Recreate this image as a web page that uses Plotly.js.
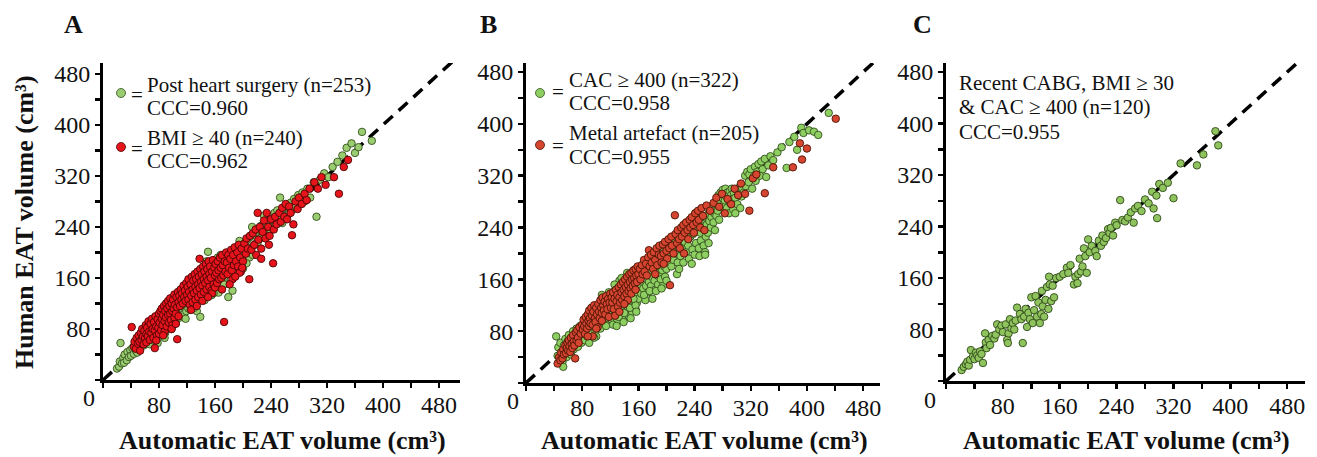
<!DOCTYPE html>
<html>
<head>
<meta charset="utf-8">
<script src="https://cdn.plot.ly/plotly-3.0.1.min.js"></script>
<style>html,body{margin:0;padding:0;background:#fff;}#chart{width:1317px;height:457px;}</style>
</head>
<body>
<div id="chart"></div>
<script>
// ---------- DATA ----------
const tickVals = [80,160,240,320,400,480];
const tickText = ['80','160','240','320','400','480'];

// Panel A: Post heart surgery (n=253) [automatic, human]
const postHeartSurgery = [
[20,18],[23,21],[24,29],[25,58],[27,26],[29,35],[30,27],[31,40],[34,31],[35,44],[37,36],[39,47],[40,38],[42,50],[44,41],[45,55],[47,46],[49,43],[51,59],[53,50],[55,63],[58,54],
[60,67],[61,57],[62,71],[64,60],[64,75],[66,69],[67,56],[68,79],[69,64],[70,74],[71,84],[72,62],[73,77],[74,70],[75,89],[76,66],[77,81],[78,73],[79,92],[80,68],[80,85],[81,76],[82,96],[83,80],[84,72],[85,98],[85,88],[86,79],[87,101],[88,83],[89,93],[89,74],[90,104],[91,86],[92,97],[93,81],[93,108],[94,90],[95,99],[96,84],[96,112],[97,94],[98,80],[99,104],[99,117],[100,91],[78,58],[88,66],[97,120],
[101,108],[101,96],[102,121],[103,100],[104,113],[104,89],[105,125],[106,104],[107,116],[107,97],[108,129],[109,109],[110,120],[110,98],[111,133],[112,112],[113,101],[113,126],[114,137],[115,116],[116,104],[116,130],[117,141],[118,119],[119,108],[119,134],[120,145],[121,123],[122,112],[122,137],[123,149],[124,126],[125,110],[125,141],[126,152],[127,130],[128,116],[128,145],[129,156],[130,134],[131,120],[132,148],[133,160],[133,137],[134,108],[135,126],[136,152],[137,164],[138,140],[139,99],[139,130],[140,156],[118,96],[130,113],
[141,168],[141,144],[142,131],[143,160],[144,148],[145,125],[145,171],[146,152],[147,138],[148,164],[149,176],[150,201],[150,155],[151,142],[152,167],[153,180],[154,158],[155,133],[155,146],[156,170],[157,184],[158,160],[159,148],[160,174],[160,188],[161,163],[162,150],[163,178],[164,192],[165,167],[166,145],[166,155],[167,182],[168,196],[169,170],[170,158],[171,186],[172,173],[173,160],[174,190],[175,176],[176,151],[177,194],[178,180],[179,130],[179,166],[165,137],[158,136],[172,150],[148,186],
[181,197],[182,183],[184,170],[185,140],[185,200],[187,188],[188,174],[190,204],[191,192],[193,178],[194,208],[196,196],[197,182],[199,212],[200,175],[201,200],[203,216],[204,188],[206,220],[207,204],[209,192],[210,224],[212,208],[213,240],[214,196],[216,228],[217,212],[219,232],[195,218],[205,183],
[221,216],[222,236],[224,222],[226,242],[228,226],[230,258],[231,232],[233,246],[235,226],[237,250],[239,236],[241,256],[243,240],[245,262],[247,244],[249,266],[251,248],[253,286],[254,258],[256,246],[258,270],[260,255],
[262,272],[265,260],[268,278],[270,266],[273,284],[276,272],[279,290],[282,277],[285,294],[288,280],[292,300],[296,286],
[301,310],[305,256],[310,314],[316,324],[322,318],[328,334],[335,342],
[342,352],[348,364],[355,371],[360,356],[365,365],[370,389],[384,375]
];

// Panel A: BMI >= 40 (n=240)
const bmi40 = [
[41,83],[44,52],[45,60],[47,49],[48,66],[50,57],[51,70],[52,60],[53,46],[54,74],[55,63],[56,80],[57,68],[58,56],[59,77],[60,66],[61,86],[62,72],[62,59],[63,82],[64,69],[65,92],[66,76],[67,63],[68,88],[69,74],[70,96],[71,80],[72,66],[73,91],[74,50],[74,78],[75,100],[76,84],[77,70],[78,95],[79,82],[80,104],[80,72],[76,62],
[81,90],[82,108],[83,78],[84,96],[84,112],[85,86],[86,102],[87,116],[88,92],[88,76],[89,108],[90,120],[90,98],[91,84],[92,112],[93,102],[93,124],[94,90],[95,116],[96,104],[96,128],[97,94],[98,120],[99,108],[99,86],[100,126],[101,112],[102,98],[102,134],[103,118],[104,104],[105,130],[106,64],[106,114],[107,138],[108,122],[108,100],[109,132],[110,116],[111,142],[112,126],[113,136],[114,120],[115,148],[116,130],[117,140],[118,124],[119,152],[120,134],[86,70],[98,80],[104,88],
[121,146],[122,126],[122,158],[123,138],[124,118],[125,150],[126,132],[127,162],[128,142],[128,122],[129,156],[130,136],[131,166],[132,146],[132,126],[133,158],[134,140],[135,170],[136,150],[136,130],[137,162],[138,144],[139,174],[140,154],[140,134],[141,166],[142,148],[143,178],[144,158],[144,138],[145,170],[146,152],[147,182],[148,162],[148,142],[149,174],[150,156],[151,186],[152,166],[152,146],[153,178],[154,160],[155,140],[156,170],[157,188],[158,150],[159,176],[160,164],[126,110],[142,124],[156,136],[134,116],[150,130],[138,190],[160,145],
[161,182],[162,168],[163,152],[164,186],[165,172],[166,158],[167,192],[168,176],[169,160],[170,196],[171,180],[172,164],[173,91],[174,186],[175,170],[176,200],[177,184],[178,166],[179,196],[180,176],[182,190],[183,204],[184,172],[186,196],[187,180],[188,208],[190,186],[192,200],[193,178],[194,212],[196,192],[197,170],[198,206],[200,186],[185,158],[195,168],[189,162],[181,150],[199,176],[170,142],
[202,214],[204,198],[205,222],[207,206],[209,158],[210,226],[212,204],[214,230],[216,212],[218,236],[219,196],[221,262],[222,220],[224,240],[226,206],[228,232],[230,250],[232,222],[234,262],[236,240],[238,226],[240,252],[243,183],[244,236],[246,256],[248,244],[226,190],[237,212],
[252,262],[254,248],[256,270],[259,256],[261,276],[263,252],[266,272],[268,262],[270,227],[272,244],[275,280],[278,268],[280,286],[284,276],[288,292],[291,282],[295,300],
[302,310],[307,300],[312,318],[318,306],[330,318],[337,292],[344,334],[350,345]
];

// Panel B: CAC >= 400 (n=322)
const cac400 = [
[43,72],[45,42],[46,55],[48,38],[49,62],[51,48],[52,33],[53,25],[54,58],[55,45],[56,68],[57,52],[58,40],[59,64],[60,55],[61,74],[62,50],[63,60],[64,44],[65,70],[66,58],[67,80],[68,52],[69,66],[70,75],[71,60],[72,84],[73,68],[74,56],[75,78],[76,66],[77,88],[78,72],[79,62],[80,82],
[81,70],[82,90],[83,78],[84,66],[85,94],[86,82],[87,72],[88,100],[89,86],[90,76],[91,96],[92,84],[93,104],[94,78],[95,92],[96,110],[97,86],[98,98],[99,80],[100,104],[101,92],[102,114],[103,88],[104,100],[105,120],[106,94],[107,108],[108,136],[109,98],[110,114],[111,90],[112,124],[113,104],[114,96],[115,130],[116,110],[117,100],[118,140],[119,116],[120,106],[90,62],[100,72],[106,84],[114,88],[97,70],
[121,128],[122,112],[122,98],[123,136],[124,118],[125,104],[126,142],[127,124],[127,110],[128,150],[129,130],[130,114],[130,96],[131,144],[132,122],[133,158],[134,134],[134,108],[135,120],[136,148],[137,128],[138,100],[138,140],[139,160],[140,118],[141,134],[142,152],[142,110],[143,126],[144,164],[145,140],[145,118],[146,104],[147,150],[148,132],[149,162],[150,122],[150,142],[151,110],[152,156],[153,136],[154,166],[154,126],[155,146],[156,114],[157,160],[158,138],[158,124],[159,150],[160,130],[124,90],[132,102],[140,108],[148,116],[156,120],[126,152],[136,162],[144,170],[152,172],[160,168],[129,88],[139,94],[149,100],[157,110],[135,138],[143,146],[151,150],[159,156],[146,142],[153,130],
[161,144],[162,170],[163,152],[164,138],[165,176],[166,158],[167,146],[168,180],[169,162],[170,128],[171,150],[172,184],[173,168],[174,140],[175,156],[176,188],[177,172],[178,150],[179,164],[180,130],[181,192],[182,176],[183,158],[184,144],[185,180],[186,196],[187,166],[188,152],[189,184],[190,170],[191,200],[192,160],[193,186],[194,174],[195,150],[196,204],[197,180],[198,164],[199,192],[200,176],[168,136],[176,142],[185,142],[193,146],[200,158],
[202,210],[203,188],[205,198],[206,216],[207,180],[209,204],[210,190],[212,222],[213,200],[215,168],[216,186],[217,214],[219,228],[220,196],[222,208],[223,232],[224,186],[226,218],[228,202],[229,238],[231,212],[232,192],[234,226],[235,244],[237,206],[238,230],[240,198],[241,262],[242,216],[244,236],[245,248],[246,208],[248,232],[249,220],[250,252],[252,240],[253,212],[254,256],[255,202],[256,226],[257,244],[258,258],[259,232],[260,216],[227,246],[218,176],[236,184],[247,196],[255,198],[260,262],
[261,250],[262,266],[263,240],[264,256],[266,270],[267,248],[268,262],[269,236],[270,276],[271,258],[272,284],[273,266],[274,290],[275,252],[276,280],[277,294],[278,272],[279,286],[280,298],[281,276],[282,290],[283,282],[284,300],[285,288],[286,270],[287,294],[288,284],[289,262],[290,296],[291,278],[292,290],[293,300],[294,284],[295,268],[296,294],[298,286],[300,298],[301,276],[303,292],[304,302],[305,270],[307,288],[308,300],[310,294],[298,262],
[312,320],[313,304],[315,326],[317,310],[318,322],[320,330],[322,300],[324,318],[326,334],[327,312],[329,326],[331,338],[333,320],[335,342],[337,330],[340,346],[342,318],[345,336],[348,350],[352,344],
[358,356],[364,364],[371,332],[375,372],[382,380],[386,360],[392,394],[395,386],[403,390],[410,388],[416,383],[431,417]
];

// Panel B: Metal artefact (n=205)
const metalArtefact = [
[45,30],[47,40],[49,35],[50,47],[52,38],[53,52],[54,44],[56,58],[57,46],[58,54],[59,62],[60,50],[61,66],[62,57],[63,48],[64,70],[65,60],[66,54],[67,74],[68,64],[69,58],[70,38],[71,78],[72,66],[73,82],[74,70],[75,62],[76,86],[78,76],[80,90],
[81,82],[82,98],[83,88],[84,76],[85,102],[86,92],[87,84],[88,106],[89,96],[90,88],[90,112],[91,100],[92,92],[93,116],[94,104],[95,90],[96,110],[97,120],[98,100],[99,94],[100,116],[101,106],[102,86],[103,122],[104,110],[105,100],[106,128],[107,116],[108,108],[109,132],[110,120],[111,112],[112,126],[113,106],[114,134],[115,122],[116,114],[117,130],[118,102],[119,124],[120,138],[95,72],[100,84],[88,72],[108,96],
[121,116],[122,132],[123,124],[124,140],[125,114],[126,130],[127,104],[128,144],[129,126],[130,136],[131,118],[132,148],[133,132],[134,124],[135,152],[136,140],[137,128],[138,156],[139,144],[140,134],[141,160],[142,148],[143,138],[144,164],[145,152],[146,142],[147,168],[148,156],[149,146],[150,170],[151,160],[152,150],[153,174],[154,162],[155,154],[156,176],[157,166],[158,156],[159,180],[160,168],[145,128],[150,138],[133,110],[140,122],[156,144],
[162,176],[163,160],[165,182],[166,168],[168,190],[169,172],[171,184],[172,166],[174,194],[175,205],[176,180],[178,198],[179,186],[181,176],[182,202],[184,190],[186,208],[187,182],[189,198],[190,212],[192,196],[193,186],[195,214],[196,200],[198,218],[200,204],[201,192],[203,222],[204,208],[205,151],[207,226],[208,212],[210,200],[184,168],[196,184],
[212,259],[213,230],[215,216],[216,236],[218,222],[219,208],[221,240],[222,226],[224,244],[225,200],[226,232],[228,248],[230,236],[231,222],[233,252],[234,240],[236,256],[238,244],[239,232],[241,262],[243,248],[245,266],[246,252],[248,240],[250,270],[252,258],[254,236],[257,274],[262,266],[267,278],
[271,286],[275,272],[279,292],[283,262],[287,284],[292,276],[297,300],[302,290],[306,308],[312,292],[318,266],[323,316],
[328,322],[340,293],[352,333],[380,333],[393,345],[390,370],[400,362],[441,408]
];

// Panel C: Recent CABG, BMI >= 30 & CAC >= 400 (n=120)
const combined = [
[22,17],[25,22],[28,26],[30,30],[32,24],[34,33],[35,48],[38,38],[40,34],[42,44],
[44,40],[46,36],[48,46],[50,42],[52,28],[55,74],[56,60],[57,51],[60,64],[62,56],
[65,70],[68,66],[70,72],[72,88],[75,80],[78,86],[80,76],[84,88],[86,64],[87,59],
[88,74],[90,96],[92,82],[94,90],[96,80],[98,94],[100,114],[104,104],[106,96],[108,59],
[110,100],[112,112],[114,84],[116,106],[118,96],[120,130],[122,90],[124,110],[126,132],[128,100],
[130,122],[132,90],[134,104],[135,140],[136,116],[138,100],[140,126],[142,146],[144,112],[145,162],
[146,150],[148,124],[150,148],[152,130],[155,160],[160,162],[165,166],[170,176],[172,168],[175,180],
[180,150],[182,162],[185,152],[186,166],[188,190],[190,170],[192,178],[194,206],[196,194],[198,168],
[200,220],[202,200],[205,210],[210,202],[212,194],[215,218],[218,210],[220,226],[222,216],[225,222],
[228,236],[230,230],[232,238],[235,226],[238,246],[240,242],[245,281],[248,250],[252,248],[256,254],
[260,262],[264,246],[266,268],[270,272],[275,264],[280,282],[285,276],[290,294],[292,268],[296,288],
[297,253],[300,306],[305,300],[312,308],[320,284],[330,338],[353,335],[362,352],[379,388],[383,366]
];

const identity = [0, 520];

// ---------- LAYOUT HELPERS ----------
const W = 1317, H = 457;
const px = v => v / W;
const py = v => 1 - v / H;
const FONT = 'Liberation Serif';

function scat(pairs, fill, line, xa, ya) {
  return {
    type: 'scatter', mode: 'markers',
    x: pairs.map(p => p[0]), y: pairs.map(p => p[1]),
    xaxis: xa, yaxis: ya, hoverinfo: 'skip',
    marker: {size: 7.5, color: fill, line: {color: line, width: 0.9}}
  };
}
function diag(xa, ya) {
  return {type: 'scatter', mode: 'lines', x: identity, y: identity, xaxis: xa, yaxis: ya,
    hoverinfo: 'skip', line: {color: '#000', width: 3.5, dash: '12px,8px'}};
}

const GA = '#9acc70', GAL = '#34501e';
const RA = '#e8141b', RAL = '#4a0606';
const GB = '#8ecf62', GBL = '#34501e';
const RB = '#d6452f', RBL = '#4a1406';
const GC = '#8fc35d', GCL = '#2f4a1a';

const data = [
  diag('x', 'y'),
  scat(postHeartSurgery, GA, GAL, 'x', 'y'),
  scat(bmi40, RA, RAL, 'x', 'y'),
  diag('x2', 'y2'),
  scat(cac400, GB, GBL, 'x2', 'y2'),
  scat(metalArtefact, RB, RBL, 'x2', 'y2'),
  diag('x3', 'y3'),
  scat(combined, GC, GCL, 'x3', 'y3')
];

function common() {
  return {showline: true, linewidth: 3, linecolor: '#000',
    ticks: 'outside', ticklen: 5, tickwidth: 2.5, tickcolor: '#000',
    tickmode: 'array', tickvals: tickVals, ticktext: tickText,
    minor: {tickmode: 'linear', tick0: 0, dtick: 40, ticks: 'outside', ticklen: 5, tickwidth: 2.5, tickcolor: '#000'},
    showgrid: false, zeroline: false,
    tickfont: {family: FONT, size: 24, color: '#111'}, fixedrange: true};
}
function xax(l, r, max, anchor) {
  return Object.assign(common(), {domain: [px(l), px(r)], range: [0, max], anchor: anchor, ticklabelstandoff: -4});
}
function yax(b, t, max, anchor) {
  return Object.assign(common(), {domain: [py(b), py(t)], range: [0, max], anchor: anchor});
}

function ann(text, x, y, size, opts) {
  return Object.assign({text: text, x: px(x), y: py(y), xref: 'paper', yref: 'paper',
    showarrow: false, xanchor: 'left', yanchor: 'middle',
    font: {family: FONT, size: size, color: '#111'}}, opts || {});
}
function dot(cx, cy, fill, line) {
  const r = 4.5;
  return {type: 'circle', xref: 'paper', yref: 'paper',
    x0: px(cx - r), x1: px(cx + r), y0: py(cy + r), y1: py(cy - r),
    fillcolor: fill, line: {color: line, width: 0.8}};
}

const xTitle = '<b>Automatic EAT volume (cm³)</b>';
const annotations = [
  ann('<b>A</b>', 73, 25, 26, {xanchor: 'center'}),
  ann('<b>B</b>', 488, 25, 26, {xanchor: 'center'}),
  ann('<b>C</b>', 922, 25, 26, {xanchor: 'center'}),
  ann('<b>Human EAT volume (cm³)</b>', 24, 222, 26, {xanchor: 'center', textangle: -90}),
  ann(xTitle, 282, 440, 26, {xanchor: 'center'}),
  ann(xTitle, 704, 440, 26, {xanchor: 'center'}),
  ann(xTitle, 1126, 440, 26, {xanchor: 'center'}),
  ann('0', 89, 398, 24, {xanchor: 'center'}),
  ann('0', 513, 401, 24, {xanchor: 'center'}),
  ann('0', 930, 400, 24, {xanchor: 'center'}),
  // Panel A legend
  ann('=', 137, 95, 21, {xanchor: 'center'}),
  ann('Post heart surgery (n=253)', 145, 85, 21),
  ann('CCC=0.960', 145, 108, 21),
  ann('=', 137, 149, 21, {xanchor: 'center'}),
  ann('BMI ≥ 40 (n=240)', 145, 138, 21),
  ann('CCC=0.962', 145, 161, 21),
  // Panel B legend
  ann('=', 558, 92, 21, {xanchor: 'center'}),
  ann('CAC ≥ 400 (n=322)', 567, 80, 21),
  ann('CCC=0.958', 567, 103, 21),
  ann('=', 558, 146, 21, {xanchor: 'center'}),
  ann('Metal artefact (n=205)', 567, 133, 21),
  ann('CCC=0.955', 567, 157, 21),
  // Panel C text
  ann('Recent CABG, BMI ≥ 30', 957, 83, 21),
  ann('&amp; CAC ≥ 400 (n=120)', 957, 107, 21),
  ann('CCC=0.955', 957, 132, 21)
];

const shapes = [
  dot(121, 93, GA, GAL), dot(121, 147, RA, RAL),
  dot(540, 93, GB, GBL), dot(540, 145, RB, RBL)
];

const layout = {
  width: W, height: H, margin: {l: 0, r: 0, t: 0, b: 0},
  paper_bgcolor: '#fff', plot_bgcolor: '#fff', showlegend: false,
  font: {family: FONT, color: '#111'},
  xaxis: xax(103, 460, 510, 'y'),
  yaxis: yax(380, 63, 497, 'x'),
  xaxis2: xax(526, 880, 504, 'y2'),
  yaxis2: yax(383, 63, 494, 'x2'),
  xaxis3: xax(946, 1305, 505, 'y3'),
  yaxis3: yax(381, 63, 494, 'x3'),
  annotations: annotations, shapes: shapes
};

Plotly.newPlot('chart', data, layout, {staticPlot: true, displayModeBar: false});
</script>
</body>
</html>
